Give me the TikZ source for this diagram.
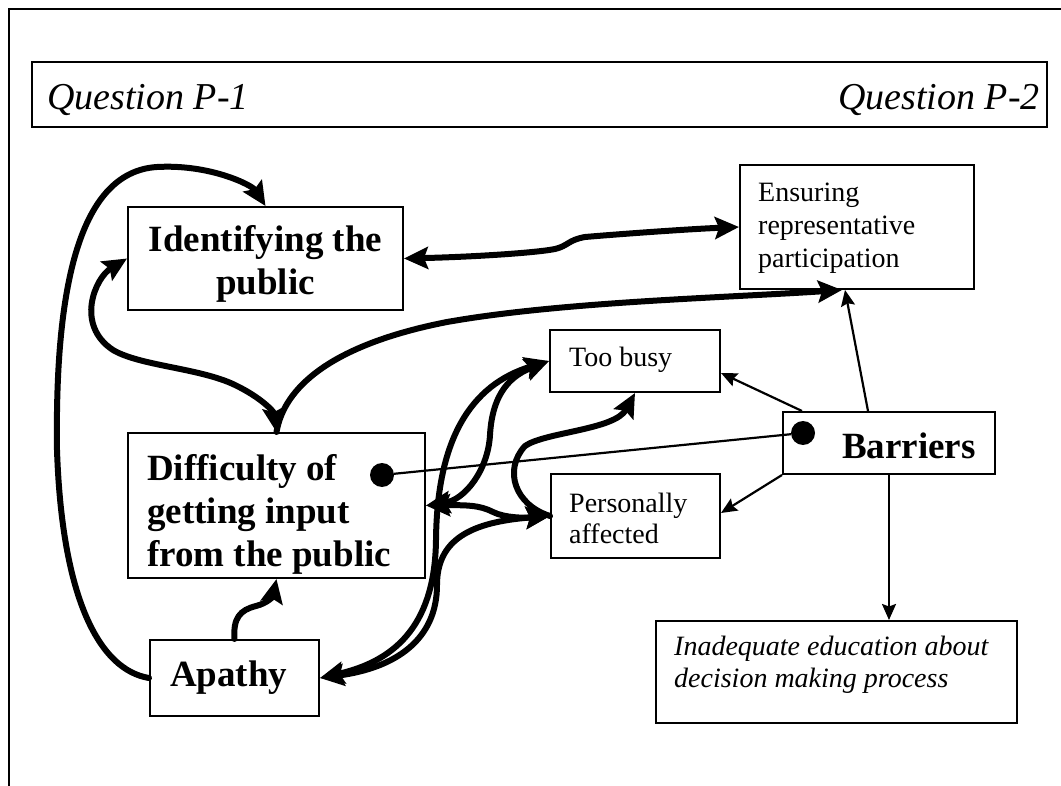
\documentclass[tikz,border=0pt]{standalone}
\usepackage{fontspec}
\setmainfont{Liberation Serif}
\usetikzlibrary{arrows.meta}
\tikzset{
  bt/.tip={Stealth[length=24pt,width=22pt,inset=4pt]},
  st/.tip={Stealth[length=16pt,width=14pt,inset=2.5pt]}
}
\begin{document}
\begin{tikzpicture}[x=1pt,y=-1pt,
  box/.style={draw,line width=2pt,inner sep=0pt,rectangle},
  txt/.style={inner sep=0pt,anchor=base west},
  ctxt/.style={inner sep=0pt,anchor=base},
  big/.style={font=\fontsize{37}{44}\selectfont\bfseries},
  mid/.style={font=\fontsize{28}{33}\selectfont},
  midit/.style={font=\fontsize{28}{33}\selectfont\itshape},
  head/.style={font=\fontsize{38}{44}\selectfont\itshape},
  link/.style={line width=6pt,line cap=round},
  thinlink/.style={line width=2.2pt},
  dot/.style={circle,fill=black,inner sep=0pt,minimum size=24pt}
]
\useasboundingbox (0,0) rectangle (1061,786);

% page frame
\draw[line width=1.5pt] (9,786) -- (9,9) -- (1061,9);

% header
\node[box,minimum width=1015pt,minimum height=65pt] (hdr) at (539.5,94.5) {};
\node[txt,head] (hdrL) at (47,110) {Question P-1};
\node[txt,head,anchor=base east] (hdrR) at (1040,110) {Question P-2};

% boxes
\node[box,minimum width=275pt,minimum height=103pt] (ident) at (265.5,258.5) {};
\node[box,minimum width=297pt,minimum height=145pt] (diff) at (276.5,505.5) {};
\node[box,minimum width=169pt,minimum height=76pt] (apathy) at (234.5,678) {};
\node[box,minimum width=234pt,minimum height=124pt] (ensure) at (857,227) {};
\node[box,minimum width=170pt,minimum height=62pt] (busy) at (635,361) {};
\node[box,minimum width=212pt,minimum height=62pt] (barriers) at (889,443) {};
\node[box,minimum width=169pt,minimum height=84pt] (pers) at (635.5,516) {};
\node[box,minimum width=361pt,minimum height=102pt] (inad) at (836.5,672) {};

% box texts
\node[ctxt,big] (identA) at (265.5,252) {Identifying the};
\node[ctxt,big] (identB) at (265.5,295) {public};
\node[txt,big] (diffA) at (147,480) {Difficulty of};
\node[txt,big] (diffB) at (147,523) {getting input};
\node[txt,big] (diffC) at (147,566) {from the public};
\node[txt,big] (apathyA) at (170,686) {Apathy};
\node[txt,mid] (ensureA) at (758,202) {Ensuring};
\node[txt,mid] (ensureB) at (758,235) {representative};
\node[txt,mid] (ensureC) at (758,268) {participation};
\node[txt,mid] (busyA) at (569,367) {Too busy};
\node[txt,big] (barriersA) at (842,458) {Barriers};
\node[txt,mid] (persA) at (569,512) {Personally};
\node[txt,mid] (persB) at (569,543) {affected};
\node[txt,midit] (inadA) at (674,655) {Inadequate education about};
\node[txt,midit] (inadB) at (674,687) {decision making process};

% dots and the line joining them
\node[dot] (dotD) at (382,475) {};
\node[dot] (dotB) at (803,433) {};
\draw[thinlink] (dotD) -- (dotB);

% thin arrows out of Barriers
\draw[thinlink,-{st}] ([xshift=-21pt]barriers.north) -- ([xshift=-12pt]ensure.south);
\draw[thinlink,-{st}] ([xshift=20pt]barriers.north west) -- ([yshift=-12pt]busy.east);
\draw[thinlink,-{st}] (barriers.south west) -- ([yshift=3pt]pers.east);
\draw[thinlink,-{st}] (barriers.south) -- (barriers.south |- inad.north);

% thick connectors
\draw[link,{bt}-{bt}] (ident.east) .. controls (470,257) and (535,253) .. (555,249)
  .. controls (568,246) and (568,240) .. (585,237)
  .. controls (620,234) and (690,229) .. (ensure.west);
\draw[link,-{bt}] (diff.north) .. controls (284,388) and (330,345) .. (447,322)
  .. controls (560,302) and (720,298) .. ([xshift=-15pt]ensure.south);
\draw[link,{bt}-{bt}] (ident.west) .. controls (95,278) and (75,325) .. (113,350)
  .. controls (140,366) and (200,368) .. (235,385)
  .. controls (262,398) and (274,412) .. (diff.north);
\draw[link,-{bt}] (apathy.west) .. controls (100,670) and (62,600) .. (57,450)
  .. controls (55,300) and (75,172) .. (157,167)
  .. controls (210,164) and (252,185) .. (ident.north);
\draw[link,-{bt}] (apathy.north) .. controls (233,618) and (240,610) .. (256,606)
  .. controls (268,603) and (273,596) .. (diff.south);
\draw[link,{bt}-{bt}] (diff.east) .. controls (465,500) and (488,470) .. (490,435)
  .. controls (492,400) and (505,378) .. (busy.west);
\draw[link,{bt}-{bt}] (diff.east) .. controls (465,505) and (480,505) .. (493,512)
  .. controls (505,518) and (525,518) .. (pers.west);
\draw[link,{bt}-{bt}] (apathy.east) .. controls (400,660) and (435,620) .. (436,540)
  .. controls (437,440) and (470,385) .. (busy.west);
\draw[link,{bt}-{bt}] (apathy.east) .. controls (395,668) and (437,640) .. (437,585)
  .. controls (437,540) and (470,522) .. (pers.west);
\draw[link,-{bt}] (pers.west) .. controls (515,505) and (503,470) .. (525,446)
  .. controls (545,432) and (615,430) .. (busy.south);
\end{tikzpicture}
\end{document}
